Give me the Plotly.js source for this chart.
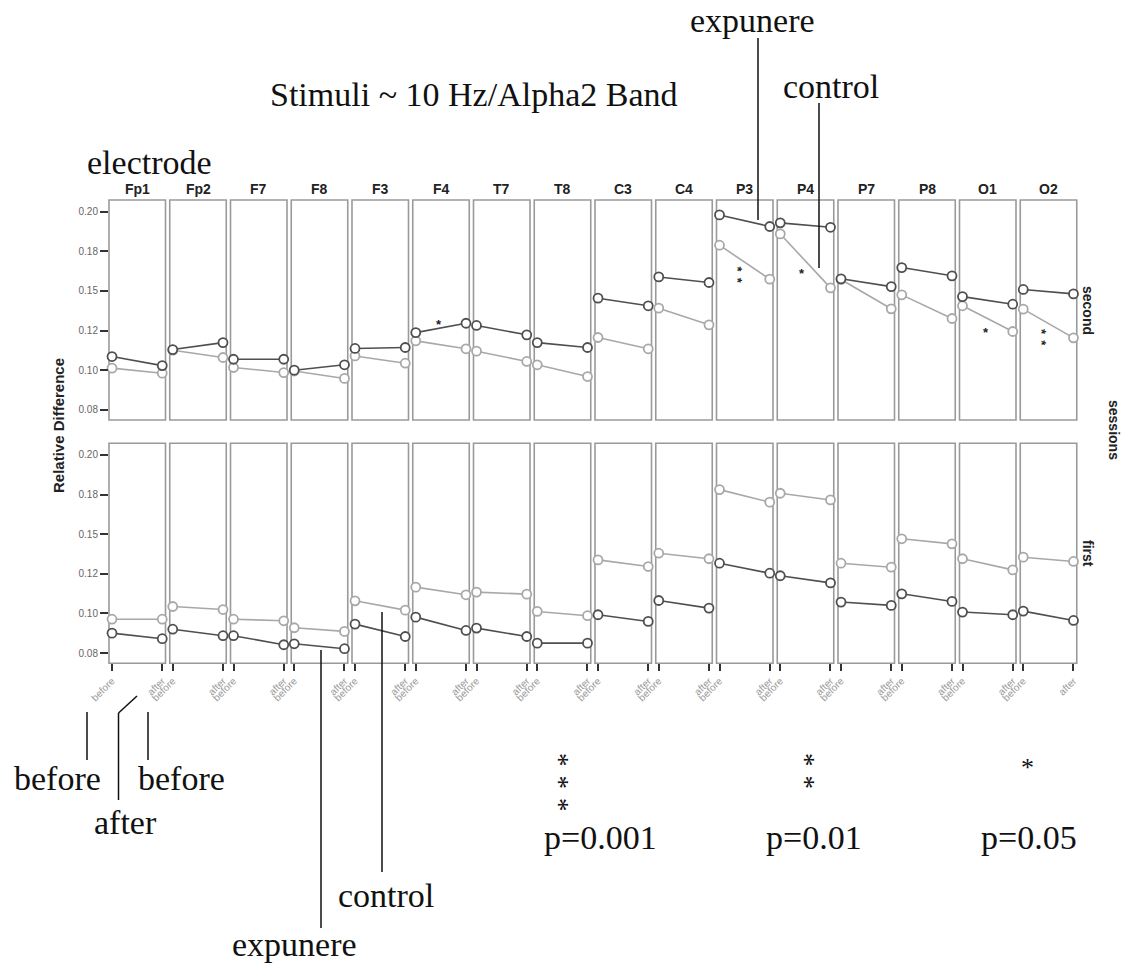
<!DOCTYPE html>
<html><head><meta charset="utf-8">
<script src="https://cdn.plot.ly/plotly-3.0.1.min.js"></script>
<style>html,body{margin:0;padding:0;background:#fff}</style>
</head><body><div id="chart" style="width:1122px;height:964px"></div>
<script>
// ---- data ----
const electrodes = ['Fp1','Fp2','F7','F8','F3','F4','T7','T8','C3','C4','P3','P4','P7','P8','O1','O2'];
const phases = ['before','after'];
const sessions = ['second','first'];
const groups = ['control','expunere'];
const yTickVals = [0.075,0.100,0.125,0.150,0.175,0.200];
const yTickText = ['0.08','0.10','0.12','0.15','0.18','0.20'];

// second session
const secondExpBefore = [0.1086,0.1130,0.1069,0.1000,0.1137,0.1237,0.1282,0.1174,0.1454,0.1588,0.1979,0.1929,0.1576,0.1647,0.1464,0.1509];
const secondExpAfter  = [0.1029,0.1174,0.1069,0.1034,0.1143,0.1296,0.1223,0.1143,0.1406,0.1553,0.1906,0.1901,0.1527,0.1595,0.1416,0.1481];
const secondCtlBefore = [0.1013,0.1126,0.1017,0.0995,0.1090,0.1185,0.1120,0.1034,0.1206,0.1391,0.1788,0.1859,0.1572,0.1475,0.1406,0.1385];
const secondCtlAfter  = [0.0981,0.1080,0.0985,0.0948,0.1044,0.1135,0.1055,0.0960,0.1135,0.1286,0.1574,0.1519,0.1387,0.1326,0.1244,0.1204];
// first session
const firstExpBefore = [0.0876,0.0901,0.0860,0.0809,0.0933,0.0977,0.0908,0.0813,0.0992,0.1082,0.1317,0.1238,0.1072,0.1124,0.1009,0.1015];
const firstExpAfter  = [0.0841,0.0860,0.0803,0.0778,0.0855,0.0893,0.0855,0.0813,0.0950,0.1034,0.1254,0.1193,0.1051,0.1076,0.0992,0.0956];
const firstCtlBefore = [0.0964,0.1044,0.0964,0.0910,0.1080,0.1166,0.1135,0.1013,0.1338,0.1380,0.1781,0.1758,0.1317,0.1471,0.1345,0.1355];
const firstCtlAfter  = [0.0964,0.1025,0.0954,0.0887,0.1021,0.1118,0.1122,0.0986,0.1296,0.1345,0.1702,0.1716,0.1292,0.1439,0.1275,0.1328];

// significance stars in panels (second session)
const sigElectrode = ['F4','P3','P4','O1','O2'];
const sigStars = [1,2,1,1,2];

// ---- layout helpers ----
const W = 1122, H = 964;
const px = x => x / W, py = y => 1 - y / H;
const panelLeft0 = 109, panelPitch = 60.75, panelW = 56.5;
const rowTop = [200, 443.3], rowBot = [420, 663.3];
const DARK = '#4f4f4f', LIGHT = '#a8a8a8';
const SANS = 'Liberation Sans, Arial, sans-serif';
const SERIF = 'Liberation Serif, Times New Roman, serif';

const seriesData = {
  second: {expunere: [secondExpBefore, secondExpAfter], control: [secondCtlBefore, secondCtlAfter]},
  first:  {expunere: [firstExpBefore, firstExpAfter],   control: [firstCtlBefore, firstCtlAfter]}
};

const traces = [];
const layout = {
  width: W, height: H, margin: {l:0, r:0, t:0, b:0},
  paper_bgcolor: '#fff', plot_bgcolor: 'rgba(0,0,0,0)',
  showlegend: false, shapes: [], annotations: []
};

const yRange = [0.0686, 0.2073];
sessions.forEach((sess, r) => {
  const yName = r === 0 ? 'y' : 'y2';
  const yKey = r === 0 ? 'yaxis' : 'yaxis2';
  layout[yKey] = {
    domain: [py(rowBot[r]), py(rowTop[r])], range: yRange, anchor: r === 0 ? 'x' : 'x17',
    tickvals: yTickVals, ticktext: yTickText, ticks: 'outside', ticklen: 8, tickwidth: 2,
    tickcolor: '#333', tickfont: {family: SANS, size: 10, color: '#666'},
    showgrid: false, zeroline: false, showline: false
  };
  electrodes.forEach((el, i) => {
    const k = r * 16 + i + 1;
    const xName = k === 1 ? 'x' : 'x' + k;
    const xKey = k === 1 ? 'xaxis' : 'xaxis' + k;
    const left = panelLeft0 + panelPitch * i;
    layout[xKey] = {
      domain: [px(left), px(left + panelW)], range: [-0.06, 1.065], anchor: yName,
      tickvals: [0, 1], ticktext: phases,
      showticklabels: r === 1, ticks: r === 1 ? 'outside' : '', ticklen: 7, tickwidth: 2, tickcolor: '#333',
      tickangle: -45, tickfont: {family: SANS, size: 10, color: '#9a9a9a'},
      showgrid: false, zeroline: false, showline: false
    };
    groups.forEach(g => {
      const vals = seriesData[sess][g];
      const c = g === 'expunere' ? DARK : LIGHT;
      traces.push({
        type: 'scatter', mode: 'lines+markers', xaxis: xName, yaxis: yName,
        x: [0, 1], y: [vals[0][i], vals[1][i]], cliponaxis: false,
        line: {color: c, width: 1.6},
        marker: {symbol: 'circle', size: 9, color: '#ffffff', line: {width: 1.8, color: c}},
        hoverinfo: 'skip'
      });
    });
    layout.shapes.push({type: 'rect', xref: xName + ' domain', yref: yName + ' domain',
      x0: 0, x1: 1, y0: 0, y1: 1, line: {color: '#9a9a9a', width: 1.6}, layer: 'below'});
    if (r === 0) {
      layout.annotations.push({x: px(left + panelW / 2), y: py(189), xref: 'paper', yref: 'paper',
        text: el, showarrow: false, font: {family: SANS, size: 14, color: '#222', weight: 'bold'},
        xanchor: 'center', yanchor: 'middle'});
    }
  });
});

// in-panel significance stars; stacked ones are a single rotated line of text
const starPix = {F4: [439, 324], P3: [737, 274.5], P4: [802, 273], O1: [986, 332], O2: [1042, 337]};
sigElectrode.forEach((el, j) => {
  const p = starPix[el];
  const n = sigStars[j];
  layout.annotations.push({x: px(p[0]), y: py(p[1]), xref: 'paper', yref: 'paper',
    text: n > 1 ? Array(n).fill('*').join('\u00a0\u2009') : '*', textangle: n > 1 ? 90 : 0,
    showarrow: false, font: {family: SANS, size: 13, color: '#222', weight: 'bold'},
    xanchor: 'center', yanchor: 'middle'});
});

function ann(text, x, y, size, family, opts) {
  layout.annotations.push(Object.assign({x: px(x), y: py(y), xref: 'paper', yref: 'paper', text: text,
    showarrow: false, font: {family: family || SERIF, size: size || 34, color: '#111'},
    xanchor: 'center', yanchor: 'middle'}, opts || {}));
}
function seg(x0, y0, x1, y1) {
  layout.shapes.push({type: 'line', xref: 'paper', yref: 'paper', x0: px(x0), y0: py(y0), x1: px(x1), y1: py(y1),
    line: {color: '#111', width: 1.5}});
}
const starCol = n => Array(n).fill('*').join('\u00a0\u200a');

const boldSans = {family: SANS, size: 14, color: '#222', weight: 'bold'};
// axis / strip titles
ann('Relative Difference', 58, 426, 14, SANS, {textangle: -90, font: Object.assign({}, boldSans, {size: 15})});
ann('second', 1088, 310, 14, SANS, {textangle: 90, font: boldSans});
ann('first', 1088, 553, 14, SANS, {textangle: 90, font: boldSans});
ann('sessions', 1114, 430, 14, SANS, {textangle: 90, font: boldSans});

// explanatory serif texts
ann('Stimuli ~ 10 Hz/Alpha2 Band', 474, 95, 34);
ann('electrode', 149, 162, 34);
ann('expunere', 752, 20, 34);
ann('control', 831, 86, 34);
ann('before', 57, 778, 34);
ann('before', 181, 778, 34);
ann('after', 125, 822, 34);
ann('control', 386, 895, 34);
ann('expunere', 294, 944, 34);
ann(starCol(3), 559, 782, 27, SERIF, {textangle: 90});
ann('p=0.001', 600, 837, 34);
ann(starCol(2), 805, 771, 27, SERIF, {textangle: 90});
ann('p=0.01', 814, 837, 34);
ann('*', 1027, 767, 26);
ann('p=0.05', 1029, 837, 34);

// pointer lines
seg(758, 38, 758, 220);
seg(819, 103, 819, 268);
seg(87, 712, 87, 760);
seg(137, 696, 118.5, 713); seg(118.5, 713, 118.5, 800);
seg(148, 712, 148, 760);
seg(321, 650, 321, 928);
seg(382, 612, 382, 872);

Plotly.newPlot('chart', traces, layout, {displayModeBar: false, staticPlot: true});
</script></body></html>
